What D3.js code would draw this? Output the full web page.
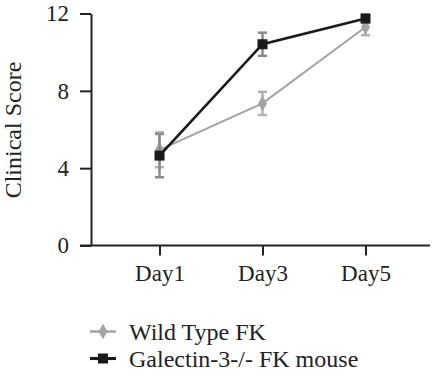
<!DOCTYPE html>
<html><head><meta charset="utf-8">
<script src="https://cdn.jsdelivr.net/npm/d3@7/dist/d3.min.js"></script>
<style>body{margin:0;background:#fff}svg{display:block}</style>
</head><body><svg id="c" width="434" height="383"></svg>
<script>
const days = ["Day1","Day3","Day5"];
const yTicks = [0,4,8,12];
const wtValues = [4.95, 7.35, 11.3];
const wtErr = [0.9, 0.6, 0.42];
const galValues = [4.65, 10.41, 11.74];
const galErr = [1.12, 0.6, 0.2];
const seriesNames = ["Wild Type FK","Galectin-3-/- FK mouse"];

const FONT = "'Liberation Serif', 'DejaVu Serif', serif";
const FS = "23px";
const svg = d3.select("#c");
const x = d3.scalePoint().domain(days).range([159.5, 365.5]);
const y = d3.scaleLinear().domain([0,12]).range([245.5, 13.5]);

const axisColor = "#222";
// y axis
const ya = svg.append("g").attr("transform","translate(91,0)")
  .call(d3.axisLeft(y).tickValues(yTicks).tickSize(11).tickSizeOuter(0).tickPadding(11));
ya.attr("font-family", FONT);
ya.select(".domain").attr("stroke",axisColor).attr("stroke-width",2);
ya.selectAll(".tick line").attr("stroke",axisColor).attr("stroke-width",2);
ya.selectAll(".tick text").style("font-family",FONT).style("font-size",FS).attr("fill","#222");

// x axis
const xa = svg.append("g").attr("transform","translate(0,245.5)")
  .call(d3.axisBottom(x).tickSize(10).tickSizeOuter(0).tickPadding(9));
xa.attr("font-family", FONT);
xa.select(".domain").attr("d","M80,0H430").attr("stroke",axisColor).attr("stroke-width",2);
xa.selectAll(".tick line").attr("stroke",axisColor).attr("stroke-width",2);
xa.selectAll(".tick text").style("font-family",FONT).style("font-size",FS).attr("fill","#222");

svg.append("text").attr("transform","translate(21,130) rotate(-90)")
  .attr("text-anchor","middle").style("font-family",FONT).style("font-size","24px").attr("fill","#222").text("Clinical Score");

const series = [
  {name:seriesNames[0], vals:wtValues, err:wtErr, color:"#a3a3a3", errColor:"#b0b0b0", lw:2, shape:"diamond"},
  {name:seriesNames[1], vals:galValues, err:galErr, color:"#1a1a1a", errColor:"#8a8a8a", lw:2.6, shape:"square"}
];

function marker(g, shape, color){
  if(shape==="diamond") g.append("path").attr("d", d3.symbol(d3.symbolDiamond, 70)()).attr("fill",color);
  else g.append("rect").attr("x",-5).attr("y",-5).attr("width",10).attr("height",10).attr("fill",color);
}

series.forEach(s=>{
  const g = svg.append("g");
  days.forEach((d,i)=>{
    const cx = x(d), lo = y(s.vals[i]-s.err[i]), hi = y(s.vals[i]+s.err[i]);
    g.append("line").attr("x1",cx).attr("x2",cx).attr("y1",lo).attr("y2",hi).attr("stroke",s.errColor).attr("stroke-width",2.5);
    [lo,hi].forEach(v=>g.append("line").attr("x1",cx-4.5).attr("x2",cx+4.5).attr("y1",v).attr("y2",v).attr("stroke",s.errColor).attr("stroke-width",2.5));
  });
  const line = d3.line().x((v,i)=>x(days[i])).y(v=>y(v));
  g.append("path").attr("d",line(s.vals)).attr("fill","none").attr("stroke",s.color).attr("stroke-width",s.lw);
  s.vals.forEach((v,i)=>{
    const m = g.append("g").attr("transform",`translate(${x(days[i])},${y(v)})`);
    marker(m, s.shape, s.color);
  });
});

// legend
const leg = svg.append("g");
series.forEach((s,i)=>{
  const ly = 331.5 + i*27;
  const g = leg.append("g").attr("transform",`translate(0,${ly})`);
  g.append("line").attr("x1",90).attr("x2",116).attr("y1",0).attr("y2",0).attr("stroke",s.color).attr("stroke-width",s.lw+0.5);
  const m = g.append("g").attr("transform","translate(103,0)");
  marker(m, s.shape, s.color);
  g.append("text").attr("x",129).attr("y",8).style("font-family",FONT).style("font-size","24px").attr("fill","#222").text(s.name);
});
</script></body></html>
